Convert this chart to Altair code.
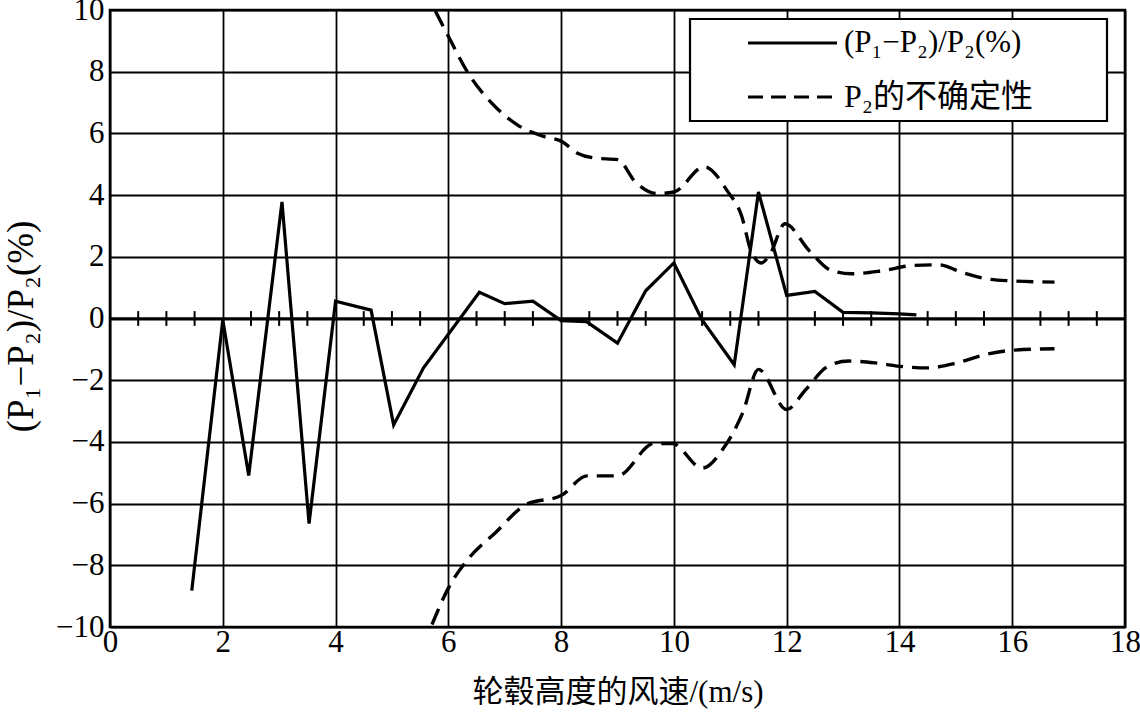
import altair as alt
import pandas as pd

# (P1-P2)/P2 (%) solid line
solid_x = [1.45, 2.0, 2.46, 3.05, 3.53, 4.0, 4.63, 5.03, 5.56, 6.55, 7.0, 7.5, 8.0, 8.45,
           9.0, 9.5, 10.0, 10.5, 11.07, 11.5, 12.0, 12.5, 13.0, 13.5, 14.0, 14.3]
solid_y = [-8.82, -0.05, -5.09, 3.78, -6.65, 0.56, 0.27, -3.45, -1.6, 0.85, 0.48, 0.56, -0.07, -0.1,
           -0.8, 0.9, 1.8, -0.05, -1.5, 4.1, 0.75, 0.88, 0.2, 0.18, 0.15, 0.12]

# Uncertainty of P2, upper branch
upper_x = [5.77, 6.0, 6.37, 6.77, 7.23, 7.69, 8.0, 8.3, 8.6, 9.0, 9.33, 9.7, 10.0, 10.54, 10.95,
           11.2, 11.37, 11.55, 11.7, 11.97, 12.4, 12.8, 13.15, 13.7, 14.25, 14.7, 15.1, 15.6, 16.0, 16.75]
upper_y = [9.97, 9.15, 7.9, 6.98, 6.27, 5.9, 5.75, 5.35, 5.2, 5.15, 4.4, 4.05, 4.1, 4.92, 4.13,
           3.33, 2.18, 1.8, 2.07, 3.07, 2.2, 1.55, 1.45, 1.55, 1.72, 1.74, 1.5, 1.27, 1.22, 1.18]

# Uncertainty of P2, lower branch
lower_x = [5.71, 6.0, 6.35, 6.83, 7.38, 8.0, 8.46, 9.0, 9.65, 9.97, 10.5, 10.9, 11.22, 11.5,
           12.0, 12.34, 12.73, 13.1, 13.57, 14.0, 14.5, 15.0, 15.5, 16.0, 16.75]
lower_y = [-9.92, -8.74, -7.8, -6.95, -6.03, -5.74, -5.1, -5.1, -4.05, -4.05, -4.85, -4.15, -3.06, -1.65,
           -2.95, -2.3, -1.55, -1.38, -1.44, -1.55, -1.6, -1.45, -1.18, -1.03, -0.98]

x_ticks = [0, 2, 4, 6, 8, 10, 12, 14, 16, 18]
y_ticks = [-10, -8, -6, -4, -2, 0, 2, 4, 6, 8, 10]
zero_ticks = [0.5, 1.0, 1.5, 2.5, 3.0, 3.5, 4.5, 5.0, 5.5, 6.5, 7.0, 7.5, 8.5, 9.0, 9.5,
              10.5, 11.0, 11.5, 12.5, 13.0, 13.5, 14.5, 15.0, 15.5, 16.5, 17.0, 17.5]

x_title = "轮毂高度的风速/(m/s)"
y_title = "(P₁−P₂)/P₂(%)"
legend_labels = ["(P₁−P₂)/P₂(%)", "P₂的不确定性"]

FONT = "Liberation Serif, Times New Roman, Noto Sans CJK SC, serif"
W, H = 1015, 617

xs = alt.Scale(domain=[0, 18], nice=False, zero=False)
ys = alt.Scale(domain=[-10, 10], nice=False, zero=False)

x_axis = alt.Axis(values=x_ticks, format="d", grid=True, gridColor="black", gridWidth=1.8, gridOpacity=1,
                  domain=False, ticks=False, labelFontSize=31, labelFont=FONT, labelColor="black",
                  labelPadding=0, labelFlush=False, labelOverlap=False,
                  title=x_title, titleFont=FONT, titleFontSize=31, titleFontWeight="normal",
                  titleColor="black", titlePadding=20)
y_axis = alt.Axis(values=y_ticks, format="d", grid=True, gridColor="black", gridWidth=1.8, gridOpacity=1,
                  domain=False, ticks=False, labelFontSize=31, labelFont=FONT, labelColor="black",
                  labelPadding=6, labelFlush=False, labelOverlap=False,
                  title=y_title, titleFont=FONT, titleFontSize=37, titleFontWeight="normal",
                  titleColor="black", titleX=-89, titleY=316, titleBaseline="middle", titleAlign="center")

solid_df = pd.DataFrame({"x": solid_x, "y": solid_y})
dash_df = pd.concat([
    pd.DataFrame({"x": upper_x, "y": upper_y, "branch": "upper"}),
    pd.DataFrame({"x": lower_x, "y": lower_y, "branch": "lower"}),
])

solid = alt.Chart(solid_df).mark_line(color="black", strokeWidth=3.2, clip=True).encode(
    x=alt.X("x:Q", scale=xs, axis=x_axis),
    y=alt.Y("y:Q", scale=ys, axis=y_axis),
)

dashed = alt.Chart(dash_df).mark_line(color="black", strokeWidth=3.4, strokeDash=[17, 9],
                                      interpolate="monotone", clip=True).encode(
    x=alt.X("x:Q", scale=xs),
    y=alt.Y("y:Q", scale=ys),
    detail="branch:N",
)

zero_line = alt.Chart(pd.DataFrame({"y": [0]})).mark_rule(color="black", strokeWidth=2.6).encode(
    y=alt.Y("y:Q", scale=ys)
)

zero_tick = alt.Chart(pd.DataFrame({"x": zero_ticks})).mark_rule(color="black", strokeWidth=2).encode(
    x=alt.X("x:Q", scale=xs),
    y=alt.datum(-0.24),
    y2=alt.datum(0.24),
)

dummy = pd.DataFrame({"a": [0]})
legend_box = alt.Chart(dummy).mark_rect(fill="white", stroke="black", strokeWidth=2.2).encode(
    x=alt.value(580), x2=alt.value(997), y=alt.value(9), y2=alt.value(111)
)
legend_solid = alt.Chart(dummy).mark_rule(color="black", strokeWidth=3).encode(
    x=alt.value(638), x2=alt.value(727), y=alt.value(33)
)
legend_dash = alt.Chart(dummy).mark_rule(color="black", strokeWidth=3, strokeDash=[15, 8]).encode(
    x=alt.value(638), x2=alt.value(727), y=alt.value(87)
)
legend_t1 = alt.Chart(dummy).mark_text(text=legend_labels[0], font=FONT, fontSize=31, color="black",
                                       align="left", baseline="middle").encode(
    x=alt.value(734), y=alt.value(33)
)
legend_t2 = alt.Chart(dummy).mark_text(text=legend_labels[1], font=FONT, fontSize=32, color="black",
                                       align="left", baseline="middle").encode(
    x=alt.value(734), y=alt.value(87)
)

chart = alt.layer(
    solid, dashed, zero_line, zero_tick,
    legend_box, legend_solid, legend_dash, legend_t1, legend_t2,
).properties(
    width=W, height=H,
    autosize=alt.AutoSizeParams(type="none"),
    padding={"left": 110, "top": 10, "right": 15, "bottom": 88},
    background="white",
).configure_view(
    stroke="black", strokeWidth=2.6
)

chart.save("out.html", embed_options={"renderer": "svg", "actions": False})
